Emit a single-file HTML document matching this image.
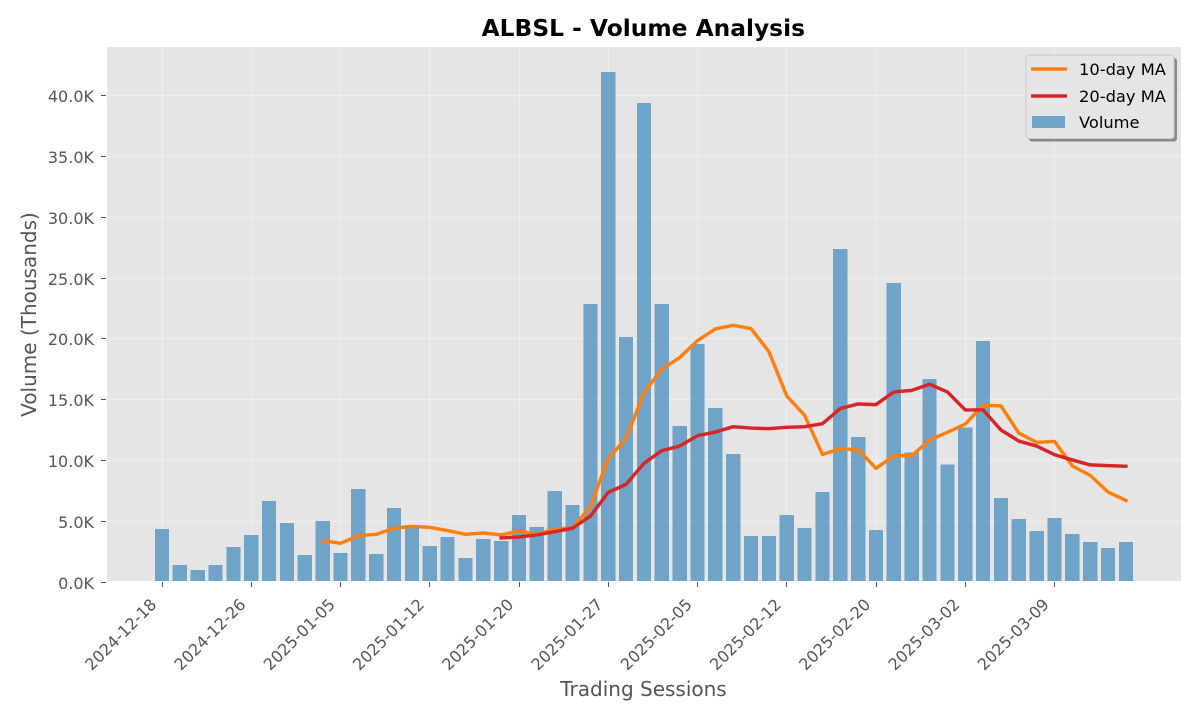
<!DOCTYPE html>
<html lang="en">
<head>
<meta charset="utf-8">
<title>ALBSL - Volume Analysis</title>
<style>
html,body{margin:0;padding:0;background:#fff;width:1200px;height:720px;overflow:hidden}
svg{display:block;font-family:"DejaVu Sans","Liberation Sans",sans-serif}
</style>
</head>
<body>
<svg id="chart" xmlns="http://www.w3.org/2000/svg" width="1200" height="720" viewBox="0 0 1200 720">
  <rect x="0" y="0" width="1200" height="720" fill="#ffffff"/>
  <rect x="107" y="47" width="1074" height="534" fill="#e5e5e5"/>
  <g id="grid"></g>
  <g id="bars"></g>
  <g id="lines"></g>
  <g id="xaxis"></g>
  <g id="yaxis"></g>
  <text x="643.3" y="36" text-anchor="middle" font-size="23.33" font-weight="700" fill="#000000">ALBSL - Volume Analysis</text>
  <text x="643.5" y="696" text-anchor="middle" font-size="20" fill="#555555">Trading Sessions</text>
  <text transform="translate(36 314.5) rotate(-90)" text-anchor="middle" font-size="20" fill="#555555">Volume (Thousands)</text>
  <g>
    <rect x="1029" y="58" width="148" height="83.5" rx="3" fill="#000000" fill-opacity="0.4"/>
    <rect x="1026" y="55" width="148" height="83.5" rx="3" fill="#e5e5e5" stroke="#cccccc" stroke-width="1"/>
    <g>
      <line x1="1031" y1="69" x2="1067" y2="69" stroke="#ff7f0e" stroke-width="3.47"/>
      <text x="1079" y="75" font-size="16.3" fill="#000000">10-day MA</text>
    </g>
    <g>
      <line x1="1031" y1="96" x2="1067" y2="96" stroke="#d62728" stroke-width="3.47"/>
      <text x="1079" y="102" font-size="16.3" fill="#000000">20-day MA</text>
    </g>
    <g>
      <rect x="1032" y="116" width="33" height="12" fill="#1f77b4" fill-opacity="0.6"/>
      <text x="1079" y="128" font-size="16.3" fill="#000000">Volume</text>
    </g>
  </g>
</svg>
<script>
const volumes = [4.35,1.40,0.99,1.40,2.88,3.87,6.66,4.85,2.22,5.01,2.39,7.65,2.30,6.08,4.68,2.96,3.70,1.97,3.53,3.37,5.51,4.52,7.48,6.33,22.86,41.94,20.15,39.38,22.86,12.83,19.57,14.31,10.52,3.79,3.79,5.51,4.45,7.40,27.38,11.92,4.27,24.59,10.66,16.70,9.67,12.72,19.82,6.91,5.18,4.19,5.26,3.95,3.29,2.80,3.29];
const ma10 = [null,null,null,null,null,null,null,null,null,3.40,3.18,3.81,3.92,4.42,4.57,4.49,4.23,3.92,4.03,3.87,4.19,3.92,4.35,4.45,6.19,10.17,11.81,15.56,17.51,18.45,19.85,20.81,21.11,20.84,18.94,15.30,13.71,10.49,10.96,10.88,9.35,10.38,10.38,11.67,12.31,12.99,14.53,14.48,12.25,11.48,11.56,9.54,8.77,7.40,6.71];
const ma20 = [null,null,null,null,null,null,null,null,null,null,null,null,null,null,null,null,null,null,null,3.62,3.70,3.87,4.14,4.42,5.42,7.37,8.03,9.76,10.80,11.18,12.03,12.33,12.77,12.66,12.61,12.72,12.77,13.02,14.26,14.64,14.59,15.63,15.76,16.26,15.63,14.15,14.15,12.50,11.59,11.18,10.47,10.04,9.63,9.57,9.52];
const yTicks = [0,5,10,15,20,25,30,35,40];
const yTickLabels = ["0.0K","5.0K","10.0K","15.0K","20.0K","25.0K","30.0K","35.0K","40.0K"];
const xTickIndexes = [0,5,10,15,20,25,30,35,40,45,50];
const xTickLabels = ["2024-12-18","2024-12-26","2025-01-05","2025-01-12","2025-01-20","2025-01-27","2025-02-05","2025-02-12","2025-02-20","2025-03-02","2025-03-09"];

const NS = "http://www.w3.org/2000/svg";
const PLOT_LEFT = 107, PLOT_RIGHT = 1181, PLOT_TOP = 47, PLOT_BOTTOM = 581;
function xScale(i){ return 162 + i * 17.85; }
function yScale(v){ return 582 - v * 12.16; }
function make(tag, attrs, parent){
  const el = document.createElementNS(NS, tag);
  for (const k in attrs) el.setAttribute(k, attrs[k]);
  parent.appendChild(el);
  return el;
}
function snap(p){ return Math.round(p - 0.5) + 0.5; }

const gridG = document.getElementById("grid");
const barsG = document.getElementById("bars");
const linesG = document.getElementById("lines");
const xG = document.getElementById("xaxis");
const yG = document.getElementById("yaxis");

yTicks.forEach(function(v, n){
  const y = snap(yScale(v));
  if (v > 0) {
    const g = make("line", {x1:PLOT_LEFT, x2:PLOT_RIGHT, y1:y, y2:y, stroke:"#ffffff", "stroke-opacity":0.35, "stroke-width":1.4}, gridG);
    
    
  }
  const t = make("line", {x1:PLOT_LEFT - 6, x2:PLOT_LEFT - 1, y1:y, y2:y, stroke:"#555555", "stroke-width":1}, yG);
  
  
  const l = make("text", {x:PLOT_LEFT - 13, y:y + 6.5, "text-anchor":"end", "font-size":16, fill:"#555555"}, yG);
  
  
  l.textContent = yTickLabels[n];
});

xTickIndexes.forEach(function(idx, n){
  const x = snap(xScale(idx));
  const g = make("line", {x1:x, x2:x, y1:PLOT_TOP, y2:PLOT_BOTTOM, stroke:"#ffffff", "stroke-opacity":0.35, "stroke-width":1.4}, gridG);
  
  
  const t = make("line", {x1:x, x2:x, y1:PLOT_BOTTOM + 1, y2:PLOT_BOTTOM + 6, stroke:"#555555", "stroke-width":1}, xG);
  
  
  const ax = xScale(idx) - 4.5, ay = 605.5;
  const l = make("text", {x:ax, y:ay, transform:"rotate(-45 " + ax + " " + ay + ")", "text-anchor":"end", "font-size":16, fill:"#555555"}, xG);
  
  
  l.textContent = xTickLabels[n];
});

volumes.forEach(function(v, i){
  const top = yScale(v);
  const b = make("rect", {x:xScale(i) - 7.14, y:top, width:14.28, height:PLOT_BOTTOM - top, fill:"#1f77b4", "fill-opacity":0.6, "shape-rendering":"crispEdges"}, barsG);
  
  
});

function drawLine(values, color){
  const pts = [];
  values.forEach(function(v, i){ if (v !== null) pts.push(xScale(i).toFixed(2) + "," + yScale(v).toFixed(2)); });
  return make("polyline", {points:pts.join(" "), fill:"none", stroke:color, "stroke-width":3.47, "stroke-linejoin":"round", "stroke-linecap":"square"}, linesG);
}
const line10 = drawLine(ma10, "#ff7f0e");


const line20 = drawLine(ma20, "#d62728");


</script>
</body>
</html>
